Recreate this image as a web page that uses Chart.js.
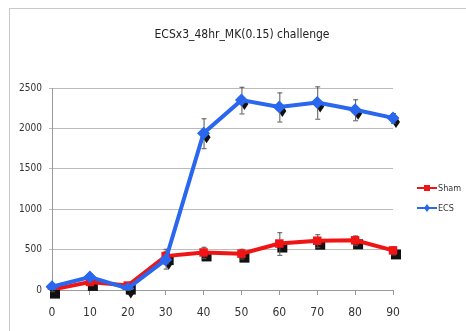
<!DOCTYPE html>
<html>
<head>
<meta charset="utf-8">
<script src="https://cdn.jsdelivr.net/npm/chart.js@4/dist/chart.umd.min.js"></script>
<style>
  html, body { margin: 0; padding: 0; background: #fff; }
  #wrap { width: 466px; height: 331px; position: relative; }
</style>
</head>
<body>
<div id="wrap"><canvas id="grafico" width="466" height="331"></canvas></div>
<script>
const titulo = 'ECSx3_48hr_MK(0.15) challenge';
const tempos = ['0', '10', '20', '30', '40', '50', '60', '70', '80', '90'];
const yTicks = [0, 500, 1000, 1500, 2000, 2500];

const shamValores = [5, 100, 55, 420, 465, 450, 575, 610, 615, 490];
const shamErros = [20, 40, 30, 90, 70, 60, 140, 80, 60, 50];
const ecsValores = [40, 160, 20, 375, 1940, 2350, 2265, 2320, 2230, 2130];
const ecsErros = [30, 40, 20, 110, 185, 165, 180, 200, 130, 60];

const fonte = '"Liberation Sans Narrow", "DejaVu Sans Condensed", "Liberation Sans", sans-serif';

// moldura, título e legenda desenhados à mão
const extras = {
  id: 'extras',
  beforeDraw(chart) {
    const c = chart.ctx;
    c.save();
    c.fillStyle = '#fff';
    c.fillRect(0, 0, chart.width, chart.height);
    c.strokeStyle = '#c8c8c8';
    c.lineWidth = 1;
    c.strokeRect(9.5, 8.5, 480, 340);
    c.fillStyle = '#222';
    c.font = '12px ' + fonte;
    c.textAlign = 'center';
    c.textBaseline = 'middle';
    c.fillText(titulo, 242, 35);
    c.restore();
  },
  beforeDatasetsDraw(chart) {
    const c = chart.ctx;
    const y = chart.scales.y;
    c.save();
    // sombras pretas dos marcadores
    chart.data.datasets.forEach((ds, i) => {
      const meta = chart.getDatasetMeta(i);
      meta.data.forEach(p => {
        c.fillStyle = '#111';
        c.beginPath();
        const x0 = p.x + 3, y0 = p.y + 4;
        if (ds.pointStyle === 'rect') {
          c.rect(x0 - 5, y0 - 5, 10, 10);
        } else {
          c.moveTo(x0, y0 - 6); c.lineTo(x0 + 4, y0); c.lineTo(x0, y0 + 6); c.lineTo(x0 - 4, y0);
          c.closePath();
        }
        c.fill();
      });
    });
    // barras de erro
    chart.data.datasets.forEach((ds, i) => {
      const meta = chart.getDatasetMeta(i);
      meta.data.forEach((p, j) => {
        const v = ds.data[j], e = ds.erros[j];
        const yt = y.getPixelForValue(v + e), yb = y.getPixelForValue(v - e);
        c.strokeStyle = '#555';
        c.lineWidth = 1;
        c.beginPath();
        c.moveTo(p.x + 0.5, yt); c.lineTo(p.x + 0.5, yb);
        c.moveTo(p.x - 2, yt + 0.5); c.lineTo(p.x + 3, yt + 0.5);
        c.moveTo(p.x - 2, yb + 0.5); c.lineTo(p.x + 3, yb + 0.5);
        c.stroke();
      });
    });
    c.restore();
  },
  afterDraw(chart) {
    const c = chart.ctx;
    c.save();
    c.font = '9px ' + fonte;
    c.textBaseline = 'middle';
    chart.data.datasets.forEach((ds, i) => {
      const ly = 188 + i * 20;
      c.strokeStyle = ds.borderColor;
      c.lineWidth = 2;
      c.beginPath();
      c.moveTo(417, ly); c.lineTo(437, ly);
      c.stroke();
      c.fillStyle = ds.borderColor;
      c.beginPath();
      if (ds.pointStyle === 'rect') {
        c.rect(424, ly - 3, 6, 6);
      } else {
        c.moveTo(427, ly - 4); c.lineTo(430, ly); c.lineTo(427, ly + 4); c.lineTo(424, ly);
        c.closePath();
      }
      c.fill();
      c.fillStyle = '#333';
      c.fillText(ds.label, 438, ly + 1);
    });
    c.restore();
  }
};

new Chart(document.getElementById('grafico'), {
  type: 'line',
  data: {
    labels: tempos,
    datasets: [
      {
        label: 'Sham',
        data: shamValores,
        erros: shamErros,
        borderColor: '#f01414',
        backgroundColor: '#f01414',
        borderWidth: 4,
        pointStyle: 'rect',
        pointRadius: 6,
        pointBorderWidth: 0,
        order: 1
      },
      {
        label: 'ECS',
        data: ecsValores,
        erros: ecsErros,
        borderColor: '#2a66ee',
        backgroundColor: '#2a66ee',
        borderWidth: 4,
        pointStyle: 'rectRot',
        pointRadius: 6.5,
        pointBorderWidth: 0,
        order: 0
      }
    ]
  },
  options: {
    responsive: false,
    animation: false,
    devicePixelRatio: 1,
    layout: { padding: { left: 0, top: 88, right: 73, bottom: 6 } },
    plugins: {
      legend: { display: false },
      tooltip: { enabled: false }
    },
    scales: {
      x: {
        offset: false,
        afterFit: s => { s.height = 35; },
        ticks: { color: '#333', font: { family: fonte, size: 12 }, padding: 11, maxRotation: 0 },
        grid: { drawOnChartArea: false, tickLength: 5, color: '#999' },
        border: { color: '#999' }
      },
      y: {
        min: 0,
        max: 2500,
        afterFit: s => { s.width = 52; },
        afterBuildTicks: s => { s.ticks = yTicks.map(v => ({ value: v })); },
        ticks: { color: '#333', font: { family: fonte, size: 10 }, padding: 7, callback: v => String(v) },
        grid: { color: '#bbb', tickLength: 3 },
        border: { color: '#999' }
      }
    }
  },
  plugins: [extras]
});
</script>
</body>
</html>
